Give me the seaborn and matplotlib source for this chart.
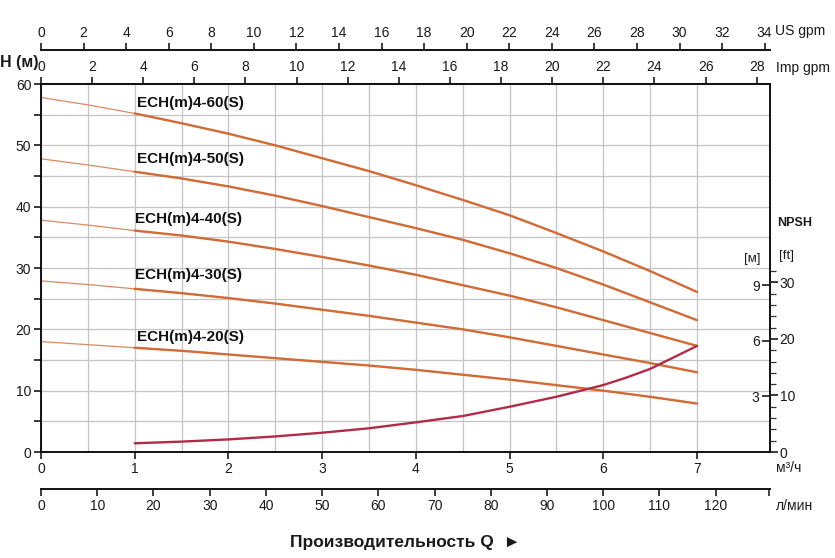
import numpy as np
import pandas as pd
import matplotlib
matplotlib.use("Agg")
import matplotlib.pyplot as plt
import seaborn as sns
from matplotlib.ticker import FixedLocator, NullFormatter

# ---------------- data ----------------
Q = [0, 0.5, 1, 1.5, 2, 2.5, 3, 3.5, 4, 4.5, 5, 5.5, 6, 6.5, 7]
H_60 = [57.8, 56.6, 55.2, 53.6, 51.9, 50.0, 47.9, 45.8, 43.5, 41.1, 38.6, 35.7, 32.7, 29.5, 26.1]
H_50 = [47.8, 46.8, 45.7, 44.6, 43.3, 41.8, 40.1, 38.3, 36.5, 34.6, 32.4, 30.0, 27.3, 24.4, 21.5]
H_40 = [37.8, 37.0, 36.1, 35.3, 34.3, 33.1, 31.8, 30.4, 28.9, 27.2, 25.5, 23.6, 21.5, 19.4, 17.3]
H_30 = [27.9, 27.3, 26.6, 25.9, 25.1, 24.2, 23.2, 22.2, 21.1, 20.0, 18.7, 17.3, 15.9, 14.5, 13.0]
H_20 = [18.0, 17.5, 17.0, 16.5, 15.9, 15.3, 14.7, 14.1, 13.4, 12.6, 11.8, 10.9, 10.0, 9.0, 7.9]
models = ["ECH(m)4-60(S)", "ECH(m)4-50(S)", "ECH(m)4-40(S)", "ECH(m)4-30(S)", "ECH(m)4-20(S)"]
label_x = [1.02, 1.02, 1.0, 1.0, 1.02]
label_y = [56.9, 47.8, 38.0, 28.9, 18.75]

Q_npsh = [1, 1.5, 2, 2.5, 3, 3.5, 4, 4.5, 5, 5.5, 6, 6.25, 6.5, 6.75, 7]
NPSH_m = [0.47, 0.56, 0.68, 0.84, 1.04, 1.28, 1.60, 1.94, 2.44, 2.98, 3.61, 4.02, 4.48, 5.10, 5.72]

h_ticks = [0, 10, 20, 30, 40, 50, 60]
q_ticks = [0, 1, 2, 3, 4, 5, 6, 7]
us_ticks = list(range(0, 35, 2))
imp_ticks = list(range(0, 29, 2))
lmin_ticks = list(range(0, 121, 10))
npsh_m_ticks = [3, 6, 9]
npsh_ft_ticks = [0, 10, 20, 30]

# ---------------- style ----------------
sns.set_theme(style="white")
plt.rcParams['font.family'] = ['Liberation Sans', 'DejaVu Sans']
plt.rcParams['axes.linewidth'] = 1.4
TXT = '#1a1a1a'
CURVE = '#d26b36'
CURVE_THIN = '#da8a62'
NPSH_C = '#b02c48'
GRID = '#c4c4c4'

fig = plt.figure(figsize=(8.35, 5.58), dpi=100)
ax = fig.add_axes([41/835, 106/558, 729/835, 368/558])
XMAX = 729 / 93.71
ax.set_xlim(0, XMAX)
ax.set_ylim(0, 60)

for s in ax.spines.values():
    s.set_color('#111111')
    s.set_linewidth(1.4)

# ticks and grid
ax.xaxis.set_major_locator(FixedLocator(q_ticks))
ax.xaxis.set_minor_locator(FixedLocator([k + 0.5 for k in range(7)]))
ax.yaxis.set_major_locator(FixedLocator(h_ticks))
ax.yaxis.set_minor_locator(FixedLocator([5, 15, 25, 35, 45, 55]))
ax.tick_params(axis='x', which='major', direction='out', length=5, width=1.2,
               labelsize=10, pad=2, colors=TXT, bottom=True, top=False)
ax.tick_params(axis='x', which='minor', length=0)
ax.tick_params(axis='y', which='both', direction='out', length=5, width=1.2,
               labelsize=10, pad=2, colors=TXT, left=True, right=False)
ax.grid(True, which='both', color=GRID, linewidth=0.9)
ax.set_axisbelow(True)

# pump curves
df = pd.DataFrame({"Q": Q, models[0]: H_60, models[1]: H_50, models[2]: H_40,
                   models[3]: H_30, models[4]: H_20})
long = df.melt(id_vars="Q", var_name="model", value_name="H")
for m in models:
    sub = long[long.model == m]
    sns.lineplot(data=sub, x="Q", y="H", ax=ax, color=CURVE_THIN, linewidth=0.9,
                 legend=False, sort=True)
    sns.lineplot(data=sub[sub.Q >= 1], x="Q", y="H", ax=ax, color=CURVE,
                 linewidth=1.7, legend=False, sort=True)
for m, lx, ly in zip(models, label_x, label_y):
    ax.text(lx, ly, m, fontsize=11, fontweight='bold', color='#111111',
            ha='left', va='center')
ax.set_xlabel("")
ax.set_ylabel("")

# NPSH axes (metres on left side of right spine, feet on right side)
M_TOP = 368 / 18.54
ax_m = ax.twinx()
ax_m.set_ylim(0, M_TOP)
ax_m.set_xlim(0, XMAX)
sns.lineplot(x=Q_npsh, y=NPSH_m, ax=ax_m, color=NPSH_C, linewidth=1.7, legend=False)
ax_m.set_yticks(npsh_m_ticks, [str(t) for t in npsh_m_ticks])
ax_m.tick_params(axis='y', direction='in', length=6, width=1.2, labelsize=10,
                 pad=-7.5, colors=TXT)
for lab in ax_m.get_yticklabels():
    lab.set_horizontalalignment('right')
ax_m.grid(False)
for s in ax_m.spines.values():
    s.set_visible(False)
ax_m.set_ylabel("")

ax_ft = ax.twinx()
ax_ft.set_ylim(0, M_TOP * 3.28084)
ax_ft.yaxis.set_major_locator(FixedLocator(npsh_ft_ticks))
ax_ft.yaxis.set_minor_locator(FixedLocator([t for t in range(2, 33, 2) if t % 10]))
ax_ft.yaxis.set_minor_formatter(NullFormatter())
ax_ft.tick_params(axis='y', which='major', direction='out', length=6, width=1.2,
                  labelsize=10, pad=1, colors=TXT)
ax_ft.tick_params(axis='y', which='minor', direction='out', length=4, width=0.9,
                  colors='#333333')
ax_ft.grid(False)
for s in ax_ft.spines.values():
    s.set_visible(False)

# secondary flow axes
def m3h_to(f):
    return (lambda x: np.asarray(x) * f, lambda x: np.asarray(x) / f)

sec_imp = ax.secondary_xaxis('top', functions=m3h_to(3.6662))
sec_imp.set_xticks(imp_ticks)
sec_us = ax.secondary_xaxis(402/368, functions=m3h_to(4.4029))
sec_us.set_xticks(us_ticks)
sec_l = ax.secondary_xaxis(-37/368, functions=m3h_to(16.6667))
sec_l.xaxis.set_major_locator(FixedLocator(lmin_ticks))
sec_l.xaxis.set_minor_locator(FixedLocator([129.5]))
for sa in (sec_imp, sec_us, sec_l):
    sa.tick_params(axis='x', which='major', direction='out', length=5, width=1.2,
                   labelsize=10, pad=2, colors=TXT)
    sa.tick_params(axis='x', which='minor', direction='out', length=5, width=1.2)
    for s in sa.spines.values():
        s.set_color('#111111')
        s.set_linewidth(1.4)

# unit labels
def ftxt(px, py, s, **kw):
    fig.text(px / 835, 1 - py / 558, s, color=TXT, va='center', **kw)

ftxt(0, 62, "H (м)", fontsize=11.5, fontweight='bold', ha='left')
ftxt(775, 31, "US gpm", fontsize=10, ha='left')
ftxt(776, 68, "Imp gpm", fontsize=10, ha='left')
ftxt(776, 468, "м³/ч", fontsize=10, ha='left')
ftxt(776, 506, "л/мин", fontsize=10, ha='left')
ftxt(777, 223, "NPSH", fontsize=9, fontweight='bold', ha='left')
ftxt(752, 259, "[м]", fontsize=9.5, ha='center')
ftxt(786, 256, "[ft]", fontsize=9.5, ha='center')
ftxt(405, 542, "Производительность Q  ►", fontsize=12.5, fontweight='bold', ha='center')

fig.savefig("out.png", dpi=100)
